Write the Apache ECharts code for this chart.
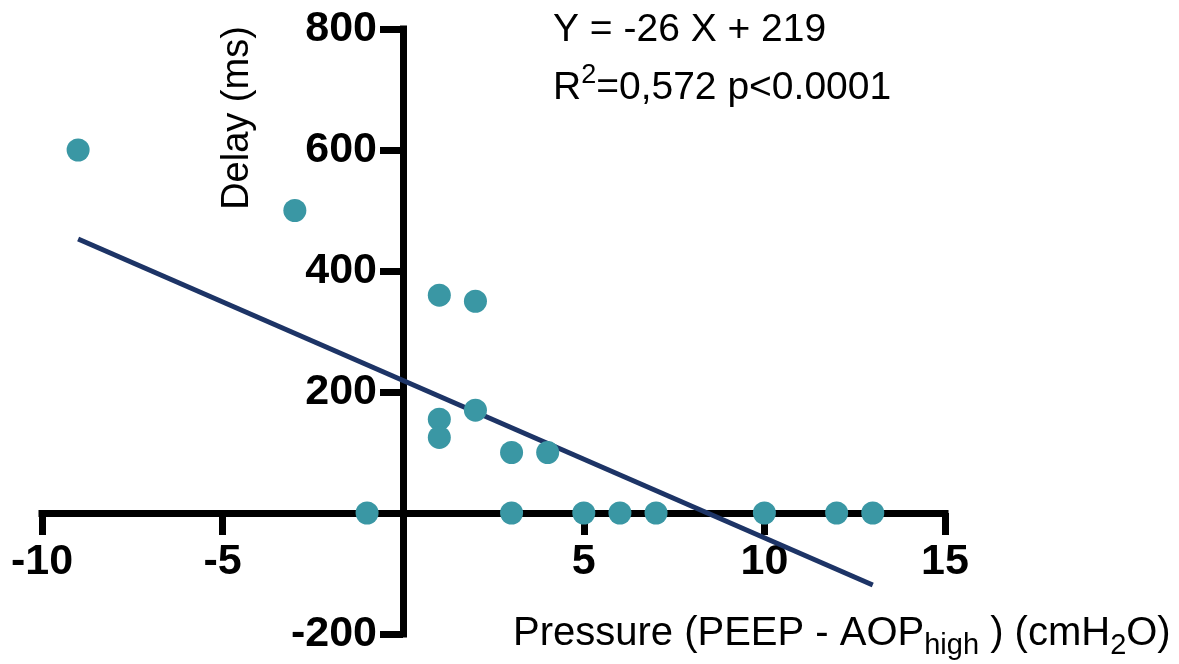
<!DOCTYPE html>
<html>
<head>
<meta charset="utf-8">
<title>Delay vs Pressure</title>
<script src="https://cdn.jsdelivr.net/npm/echarts@6/dist/echarts.min.js"></script>
<style>
	html, body { margin: 0; padding: 0; background: #fff; }
	#chart { width: 1179px; height: 664px; }
</style>
</head>
<body>
<div id="chart"></div>
<script>
// measured points (pressure cmH2O, delay ms)
var pressure = [ -9, -3, 1, 2, 1, 1, 2, 3, 4, -1, 3, 5, 6, 7, 10, 12, 13 ];
var delay = [ 600, 500, 360, 350, 155, 125, 170, 100, 100, 0, 0, 0, 0, 0, 0, 0, 0 ];
// regression line end points, Y = -26 X + 219
var fitX = [ -9, 13 ];
var fitY = [ 453, -119 ];
var xTicks = [ -10, 15, 5 ]; // min, max, step
var yTicks = [ -200, 800, 200 ];

function drawChart() {
	var myChart = echarts.init(document.getElementById('chart'));
	var points = [];
	for (var i = 0; i < pressure.length; i++) {
		points.push([ pressure[i], delay[i] ]);
	}
	var fit = [];
	for (var j = 0; j < fitX.length; j++) {
		fit.push([ fitX[j], fitY[j] ]);
	}
	var font = 'Liberation Sans, Arial, Helvetica, sans-serif';
	var hideZero = function(v) {
		return v === 0 ? '' : String(v);
	};
	var option = {
		backgroundColor : '#ffffff',
		animation : false,
		grid : {
			left : 42,
			right : 234,
			top : 29,
			bottom : 30,
			containLabel : false,
			outerBoundsMode : 'none'
		},
		xAxis : {
			type : 'value',
			position : 'bottom',
			offset : -121, // sits on y = 0
			min : xTicks[0],
			max : xTicks[1],
			interval : xTicks[2],
			axisLine : {
				onZero : false,
				lineStyle : { color : '#000', width : 7, cap : 'square' }
			},
			axisTick : {
				show : true,
				inside : false,
				length : 22,
				lineStyle : { color : '#000', width : 7 }
			},
			axisLabel : {
				margin : 28,
				color : '#000',
				fontSize : 43,
				fontWeight : 'bold',
				fontFamily : font,
				formatter : hideZero
			},
			splitLine : { show : false }
		},
		yAxis : {
			type : 'value',
			position : 'left',
			offset : -361, // sits on x = 0
			min : yTicks[0],
			max : yTicks[1],
			interval : yTicks[2],
			axisLine : {
				onZero : false,
				lineStyle : { color : '#000', width : 7, cap : 'square' }
			},
			axisTick : {
				show : true,
				inside : false,
				length : 23,
				lineStyle : { color : '#000', width : 7 }
			},
			axisLabel : {
				margin : 26,
				color : '#000',
				fontSize : 43,
				fontWeight : 'bold',
				fontFamily : font,
				formatter : hideZero
			},
			splitLine : { show : false }
		},
		graphic : [ {
			type : 'text',
			left : 553,
			top : 11,
			style : {
				text : 'Y = -26 X + 219',
				fill : '#000',
				font : '39px ' + font
			}
		}, {
			type : 'text',
			left : 553,
			top : 62,
			style : {
				text : '{n|R}{sup|2}{n|=0,572 p<0.0001}',
				fill : '#000',
				rich : {
					n : { fontSize : 39, fontFamily : font, lineHeight : 46, verticalAlign : 'bottom', fill : '#000' },
					sup : { fontSize : 27, fontFamily : font, lineHeight : 28, verticalAlign : 'top', fill : '#000' }
				}
			}
		}, {
			type : 'text',
			x : 238,
			y : 118,
			rotation : Math.PI / 2,
			style : {
				text : 'Delay (ms)',
				fill : '#000',
				font : '38px ' + font,
				align : 'center',
				verticalAlign : 'middle'
			}
		}, {
			type : 'text',
			left : 513,
			top : 604,
			style : {
				text : '{n|Pressure (PEEP - AOP}{sub|high}{n| ) (cmH}{sub|2}{n|O)}',
				fill : '#000',
				rich : {
					n : { fontSize : 40, fontFamily : font, lineHeight : 46, verticalAlign : 'top', fill : '#000' },
					sub : { fontSize : 29, fontFamily : font, lineHeight : 29, padding : [ 27, 0, 0, 0 ], verticalAlign : 'bottom', fill : '#000' }
				}
			}
		} ],
		series : [ {
			name : 'fit',
			type : 'line',
			data : fit,
			showSymbol : false,
			symbol : 'none',
			z : 3,
			lineStyle : { color : '#1d3466', width : 5 }
		}, {
			name : 'delay',
			type : 'scatter',
			data : points,
			symbol : 'circle',
			symbolSize : 23,
			z : 4,
			itemStyle : { color : '#3a97a4', opacity : 1 }
		} ]
	};
	myChart.setOption(option);
}
drawChart();
</script>
</body>
</html>
